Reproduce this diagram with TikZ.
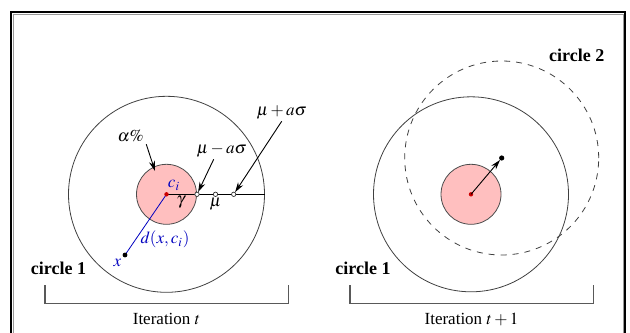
\documentclass[tikz,border=0pt]{standalone}
\usepackage{mathptmx}
\usepackage{fontspec}
\setmainfont{Liberation Serif}
\usetikzlibrary{arrows.meta}

\begin{document}
\begin{tikzpicture}[x=0.5pt, y=-0.5pt]
	% Styles
	\tikzstyle{lbl} = [font=\fontsize{8.5}{10}\selectfont, inner sep=1pt]
	\tikzstyle{title} = [font=\fontsize{9}{10}\selectfont\bfseries, inner sep=1pt]
	\tikzstyle{core} = [draw=black!70, fill=red!25, circle, inner sep=0pt, line width=0.4pt]
	\tikzstyle{ring} = [draw=black!75, circle, inner sep=0pt, line width=0.4pt]
	\tikzstyle{opendot} = [draw=black!80, fill=white, circle, inner sep=0pt, minimum size=2.2pt, line width=0.35pt]
	\tikzstyle{pointer} = [line width=0.45pt, -{Stealth[length=5pt, width=3pt]}]
	\tikzstyle{dist} = [blue!75!black]
	\tikzstyle{bracket} = [draw=black!65, line width=0.55pt]

	\useasboundingbox (0,0) rectangle (630,332);
	\draw[line width=1.1pt] (11,12) rectangle (625,345);
	\draw[black!40, line width=0.3pt] (13,14) rectangle (623,345);

	% Centres
	\coordinate (ci) at (166.5,194.3);
	\coordinate (cj) at (471,194.3);
	\coordinate (cnew) at (501.7,158);
	\coordinate (xpt) at (125,255);
	\coordinate (apct) at (155,171);

	% Iteration t
	\node (ring1) [ring, minimum size=98pt] at (ci) {};
	\node (core1) [core, minimum size=30pt] at (ci) {};
	\draw[dist, line width=0.4pt] (ci) -- (xpt);
	\draw[line width=0.45pt] (ci) -- (ring1.east);
	\node (lo) [opendot] at (197,194.3) {};
	\node (mu) [opendot] at (215.5,194.3) {};
	\node (hi) [opendot] at (233.7,194.3) {};
	\fill[red!80!black] (ci) circle [radius=2.2];
	\fill (xpt) circle [radius=2.4];

	\node (cilbl) [lbl, dist] at (174,185.5) {$c_i$};
	\node (gam) [lbl] at (180.7,202.7) {$\gamma$};
	\node (mulbl) [lbl] at (215.5,204.5) {$\mu$};
	\node (xlbl) [lbl, dist] at (117.3,263.3) {$x$};
	\node (dlbl) [lbl, dist] at (165,239.3) {$d(x,c_i)$};
	\node (pct) [lbl] at (130.7,136) {$\alpha\%$};
	\node (lower) [lbl] at (221.7,150) {$\mu-a\sigma$};
	\node (upper) [lbl] at (281.7,112) {$\mu+a\sigma$};

	\draw[pointer] (pct.south east) -- (apct);
	\draw[pointer] ([xshift=-4pt]lower.south) -- (lo);
	\draw[pointer] (upper.south) -- (hi);

	% Iteration t+1
	\node (ring2) [ring, minimum size=97.5pt] at (cj) {};
	\node (core2) [core, minimum size=30pt] at (cj) {};
	\node (ring3) [ring, dashed, minimum size=97pt] at (cnew) {};
	\fill[red!80!black] (cj) circle [radius=2.2];
	\fill (cnew) circle [radius=2.6];
	\draw[pointer, shorten >=1.3pt] (cj) -- (cnew);

	% Labels
	\node (c1a) [title] at (58.5,268) {circle 1};
	\node (c1b) [title] at (363,268) {circle 1};
	\node (c2) [title] at (576.7,55) {circle 2};

	% Brackets
	\draw[bracket] (45,285) |- (288.3,303.3) -- (288.3,285);
	\draw[bracket] (350,285) |- (593.3,303.3) -- (593.3,285);
	\node (it1) [lbl] at (166.5,319) {Iteration $t$};
	\node (it2) [lbl] at (471.5,319) {Iteration $t+1$};
\end{tikzpicture}
\end{document}
